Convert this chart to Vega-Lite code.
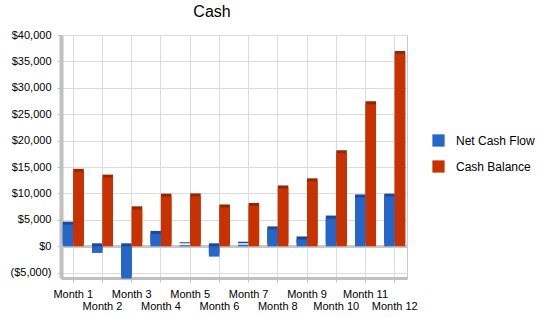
{
  "$schema": "https://vega.github.io/schema/vega-lite/v6.json",
  "autosize": {"type": "none"},
  "width": 346,
  "height": 243,
  "padding": {"left": 61, "top": 35, "right": 143, "bottom": 40},
  "background": "white",
  "title": {"text": "Cash", "anchor": "middle", "dx": -22, "offset": 9, "fontSize": 16, "font": "Liberation Sans", "fontWeight": "normal", "color": "black"},
  "config": {
    "view": {"stroke": "#c8c8c8", "strokeWidth": 1},
    "axis": {"labelFont": "Liberation Sans", "labelFontSize": 11, "labelColor": "black", "gridColor": "#dcdcdc", "tickColor": "#c0c0c0", "domainColor": "#c0c0c0"}
  },
  "data": {"values": [
    {"month": "Month 1", "series": "Net Cash Flow", "value": 4100},
    {"month": "Month 1", "series": "Cash Balance", "value": 14100},
    {"month": "Month 2", "series": "Net Cash Flow", "value": -1250},
    {"month": "Month 2", "series": "Cash Balance", "value": 13000},
    {"month": "Month 3", "series": "Net Cash Flow", "value": -6100},
    {"month": "Month 3", "series": "Cash Balance", "value": 7000},
    {"month": "Month 4", "series": "Net Cash Flow", "value": 2350},
    {"month": "Month 4", "series": "Cash Balance", "value": 9400},
    {"month": "Month 5", "series": "Net Cash Flow", "value": 200},
    {"month": "Month 5", "series": "Cash Balance", "value": 9450},
    {"month": "Month 6", "series": "Net Cash Flow", "value": -1950},
    {"month": "Month 6", "series": "Cash Balance", "value": 7350},
    {"month": "Month 7", "series": "Net Cash Flow", "value": 300},
    {"month": "Month 7", "series": "Cash Balance", "value": 7650},
    {"month": "Month 8", "series": "Net Cash Flow", "value": 3200},
    {"month": "Month 8", "series": "Cash Balance", "value": 10950},
    {"month": "Month 9", "series": "Net Cash Flow", "value": 1300},
    {"month": "Month 9", "series": "Cash Balance", "value": 12300},
    {"month": "Month 10", "series": "Net Cash Flow", "value": 5250},
    {"month": "Month 10", "series": "Cash Balance", "value": 17600},
    {"month": "Month 11", "series": "Net Cash Flow", "value": 9250},
    {"month": "Month 11", "series": "Cash Balance", "value": 26900},
    {"month": "Month 12", "series": "Net Cash Flow", "value": 9400},
    {"month": "Month 12", "series": "Cash Balance", "value": 36400}
  ]},
  "encoding": {
    "x": {"field": "month", "type": "nominal", "sort": null,
      "scale": {"paddingInner": 0.28, "paddingOuter": 0.06},
      "axis": {"title": null, "labelAngle": 0, "grid": true, "tickSize": 4, "domainWidth": 3,
        "labelPadding": {"condition": {"test": "indexof(['Month 2','Month 4','Month 6','Month 8','Month 10','Month 12'], datum.value) >= 0", "value": 18}, "value": 6}}},
    "y": {"field": "value", "type": "quantitative",
      "scale": {"domain": [-6000, 40000], "nice": false},
      "axis": {"title": null, "values": [-5000, 0, 5000, 10000, 15000, 20000, 25000, 30000, 35000, 40000], "grid": true, "tickSize": 4, "domainWidth": 4, "domainColor": "#c0c0c0", "labelPadding": 6,
        "labelExpr": "datum.value < 0 ? '(' + format(-datum.value, '$,') + ')' : format(datum.value, '$,')"}},
    "xOffset": {"field": "series", "type": "nominal", "sort": ["Net Cash Flow", "Cash Balance"], "scale": {"paddingInner": 0, "paddingOuter": 0}}
  },
  "layer": [
    {"mark": {"type": "rule", "color": "#c8c8c8", "strokeWidth": 2}, "encoding": {"y": {"datum": 0}, "x": null, "xOffset": null}},
    {"mark": {"type": "bar", "xOffset": 3, "yOffset": -3},
      "encoding": {"color": {"field": "series", "type": "nominal", "legend": null,
        "scale": {"domain": ["Net Cash Flow", "Cash Balance"], "range": ["#1b4a99", "#952600"]}}}},
    {"mark": {"type": "bar", "stroke": null},
      "encoding": {"color": {"field": "series", "type": "nominal",
        "scale": {"domain": ["Net Cash Flow", "Cash Balance"], "range": ["#2666c6", "#c83200"]},
        "legend": {"title": null, "orient": "none", "legendX": 371, "legendY": 99, "symbolType": "square", "symbolSize": 150, "symbolStrokeWidth": 0, "symbolOpacity": 1, "labelFont": "Liberation Sans", "labelFontSize": 12, "labelColor": "black", "rowPadding": 13, "labelOffset": 11}}}}
  ],
  "resolve": {"scale": {"color": "independent"}}
}
